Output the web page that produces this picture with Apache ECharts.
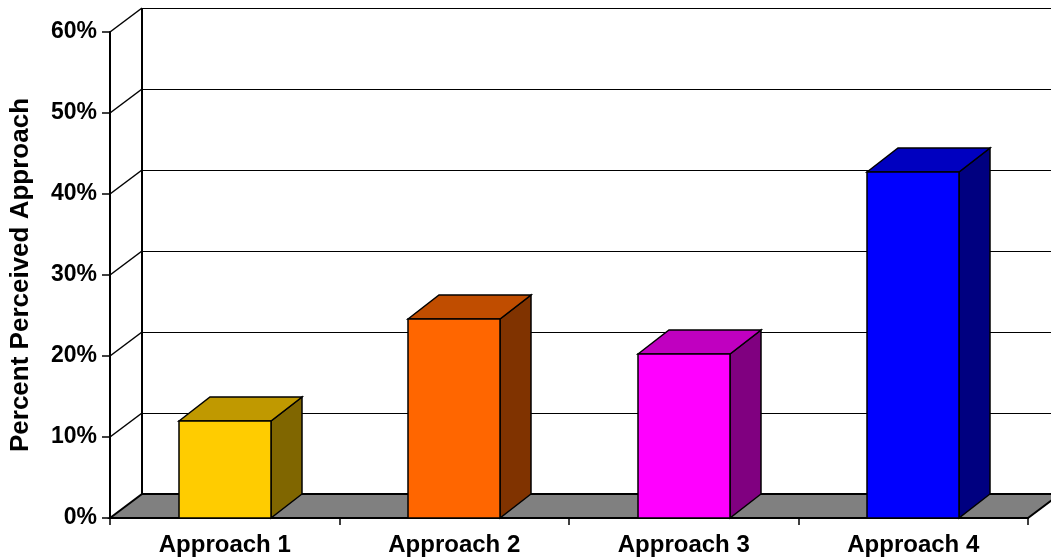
<!DOCTYPE html>
<html>
<head>
<meta charset="utf-8">
<script src="https://cdn.jsdelivr.net/npm/echarts@6/dist/echarts.min.js"></script>
<style>
  html, body { margin: 0; padding: 0; background: #fff; }
  #chart { width: 1051px; height: 560px; }
</style>
</head>
<body>
<div id="chart"></div>
<script>
// Chart data
const categories = ['Approach 1', 'Approach 2', 'Approach 3', 'Approach 4'];
const percentValues = [12, 24.6, 20.2, 42.7];
const yTicks = [0, 10, 20, 30, 40, 50, 60];
const axisTitle = 'Percent Perceived Approach';

// Face colours of each column: front, top, side
const frontColors = ['#FFCC00', '#FF6600', '#FF00FF', '#0000FF'];
const topColors = ['#C09900', '#C04D00', '#C000C0', '#0000C0'];
const sideColors = ['#806600', '#803300', '#800080', '#000080'];

// 3D depth offset of the plot box
const DX = 32, DY = -24;
const FONT = "'Liberation Sans', Arial, Helvetica, sans-serif";

const chart = echarts.init(document.getElementById('chart'), null, { renderer: 'canvas' });

// snap to the pixel grid so thin lines stay sharp
const crisp = v => Math.round(v) + 0.5;

// Back wall, side wall and floor, placed through the value axis
function renderWalls(params, api) {
  const v = api.value(0);
  const cs = params.coordSys;
  const y = Math.round(api.coord([0, v])[1]);
  const x0 = Math.round(cs.x), x1 = Math.round(cs.x + cs.width);
  const children = [];
  if (v === yTicks[0]) {
    children.push({
      type: 'polygon',
      shape: { points: [[x0, y], [x0 + DX, y + DY], [x1 + DX, y + DY], [x1, y]] },
      style: { fill: '#808080', stroke: '#000', lineWidth: 2 }
    });
    const yTop = Math.round(api.coord([0, yTicks[yTicks.length - 1]])[1]);
    children.push({
      type: 'line',
      shape: { x1: x0 + DX, y1: y + DY, x2: x0 + DX, y2: yTop + DY },
      style: { stroke: '#000', lineWidth: 2 }
    });
  } else {
    children.push({
      type: 'line',
      shape: { x1: x0, y1: y, x2: x0 + DX, y2: y + DY },
      style: { stroke: '#000', lineWidth: 1.5 }
    });
    children.push({
      type: 'line',
      shape: { x1: x0 + DX, y1: crisp(y + DY), x2: x1 + DX, y2: crisp(y + DY) },
      style: { stroke: '#000', lineWidth: 1 }
    });
  }
  return { type: 'group', children: children };
}

// Columns drawn as boxes: side, top and front faces
function renderColumn(params, api) {
  const idx = api.value(0);
  const val = api.value(1);
  const top = api.coord([idx, val]);
  const base = api.coord([idx, 0]);
  const band = api.size([1, 0])[0];
  const w = band * 0.4;
  const xl = Math.round(top[0] - w / 2), xr = Math.round(top[0] + w / 2);
  const yt = Math.round(top[1]), yb = Math.round(base[1]);
  const dx = DX - 1, dy = DY;
  const i = params.dataIndex;
  const edge = { stroke: '#000', lineWidth: 1.5, lineJoin: 'miter' };
  return {
    type: 'group',
    children: [
      {
        type: 'polygon',
        shape: { points: [[xr, yb], [xr, yt], [xr + dx, yt + dy], [xr + dx, yb + dy]] },
        style: Object.assign({ fill: sideColors[i] }, edge)
      },
      {
        type: 'polygon',
        shape: { points: [[xl, yt], [xl + dx, yt + dy], [xr + dx, yt + dy], [xr, yt]] },
        style: Object.assign({ fill: topColors[i] }, edge)
      },
      {
        type: 'rect',
        shape: { x: xl, y: yt, width: xr - xl, height: yb - yt },
        style: Object.assign({ fill: frontColors[i] }, edge)
      }
    ]
  };
}

const option = {
  backgroundColor: '#fff',
  animation: false,
  grid: {
    left: 110, right: 23, top: 32, bottom: 42,
    containLabel: false,
    outerBoundsMode: 'none'
  },
  xAxis: {
    type: 'category',
    data: categories,
    boundaryGap: true,
    axisLine: { show: true, lineStyle: { color: '#000', width: 2 } },
    axisTick: { show: true, length: 7, inside: false, lineStyle: { color: '#000', width: 1.5 } },
    axisLabel: {
      margin: 15,
      color: '#000',
      fontFamily: FONT,
      fontWeight: 'bold',
      fontSize: 24
    },
    splitLine: { show: false }
  },
  yAxis: {
    type: 'value',
    min: 0,
    max: 60,
    interval: 10,
    name: axisTitle,
    nameLocation: 'middle',
    nameGap: 76,
    nameTextStyle: {
      color: '#000',
      fontFamily: FONT,
      fontWeight: 'bold',
      fontSize: 26
    },
    axisLine: { show: true, lineStyle: { color: '#000', width: 2 } },
    axisTick: { show: true, length: 8, inside: false, lineStyle: { color: '#000', width: 1.5 } },
    axisLabel: {
      margin: 13,
      formatter: '{value}%',
      color: '#000',
      fontFamily: FONT,
      fontWeight: 'bold',
      fontSize: 23,
      padding: [5, 0, 0, 0]
    },
    splitLine: { show: false }
  },
  series: [
    {
      type: 'custom',
      name: 'walls',
      clip: false,
      silent: true,
      z: 1,
      renderItem: renderWalls,
      encode: { y: 0 },
      data: yTicks.map(v => [v])
    },
    {
      type: 'custom',
      name: 'columns',
      clip: false,
      z: 3,
      renderItem: renderColumn,
      encode: { x: 0, y: 1 },
      data: percentValues.map((v, i) => [i, v])
    }
  ]
};

chart.setOption(option);
</script>
</body>
</html>
